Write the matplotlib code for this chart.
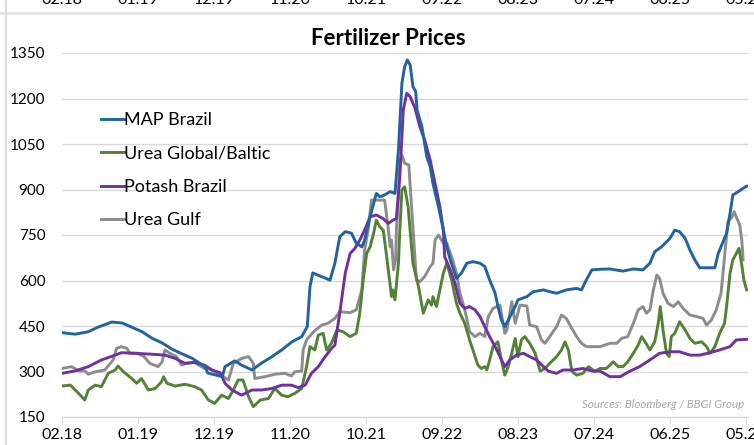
import matplotlib.pyplot as plt
import matplotlib.transforms as mtransforms
from matplotlib.lines import Line2D

# x values are months since Feb 2018
tick_months = [0, 11, 22, 33, 44, 55, 66, 77, 88, 99]
tick_labels = ['02.18', '01.19', '12.19', '11.20', '10.21',
               '09.22', '08.23', '07.24', '06.25', '05.26']

map_m = [0.0, 1.9, 3.8, 5.2, 7.2, 8.7, 10.1, 11.6, 13.0, 14.5, 15.9, 17.4, 18.8,
         20.7, 21.1, 23.2, 23.6, 25.0, 26.0, 27.5, 28.9, 30.4, 31.8, 33.3, 34.7,
         35.5, 35.9, 36.3, 37.0, 38.1, 38.8, 39.5, 40.2, 41.0, 41.9, 42.6, 43.4,
         43.8, 44.6, 45.5, 46.0, 46.7, 47.5, 48.2, 48.7, 49.2, 49.6, 50.0, 50.4,
         50.8, 51.2, 51.4, 52.1, 52.8, 53.3, 53.7, 54.5, 55.2, 55.7, 56.2, 57.1,
         57.8, 58.6, 59.5, 60.5, 61.2, 61.9, 62.7, 63.1, 63.6, 64.1, 64.6, 65.1,
         65.6, 66.0, 67.3, 68.2, 69.7, 70.6, 71.6, 73.0, 74.5, 75.2, 75.9, 76.7,
         77.9, 79.3, 81.2, 82.7, 84.1, 85.1, 85.8, 86.8, 88.0, 88.7, 89.4, 90.2,
         90.9, 91.6, 92.3, 93.3, 94.5, 95.0, 95.7, 96.2, 96.7, 97.1, 97.9, 98.6,
         99.1]
map_v = [428, 423, 431, 446, 463, 460, 446, 431, 410, 394, 374, 358, 344,
         316, 295, 283, 316, 335, 321, 305, 328, 349, 371, 398, 415,
         448, 580, 625, 618, 608, 601, 657, 744, 761, 756, 723, 711,
         733, 810, 887, 876, 882, 893, 887, 1030, 1250, 1305, 1327, 1310,
         1239, 1223, 1162, 1107, 1008, 975, 920, 843, 767, 711, 668, 607,
         624, 657, 662, 657, 646, 602, 558, 514, 470, 448, 470, 492,
         514, 536, 547, 563, 569, 563, 558, 569, 574, 569, 602, 635,
         637, 638, 631, 638, 635, 657, 695, 711, 739, 766, 761, 739,
         700, 668, 642, 642, 642, 690, 728, 756, 821, 882, 893, 904,
         911]

urea_m = [0.0, 1.2, 2.4, 3.3, 3.8, 4.8, 5.7, 6.7, 7.7, 8.1, 8.9, 10.1, 10.8,
          11.5, 12.5, 13.5, 14.4, 14.7, 15.2, 16.4, 17.8, 19.2, 20.2, 21.2, 22.1,
          23.1, 24.1, 24.8, 25.5, 26.2, 27.0, 27.7, 28.7, 29.9, 30.8, 31.8, 32.7,
          33.7, 34.7, 35.4, 35.9, 36.6, 37.1, 37.8, 38.3, 39.0, 39.8, 40.7, 41.7,
          42.6, 43.1, 43.6, 44.1, 44.6, 45.1, 45.5, 46.0, 46.5, 47.0, 47.7, 47.9,
          48.2, 48.7, 48.9, 49.2, 49.6, 50.1, 50.6, 50.8, 51.6, 52.3, 53.0, 53.5,
          53.7, 54.2, 54.7, 55.2, 55.7, 56.4, 57.1, 57.6, 58.3, 59.0, 59.8, 60.2,
          60.7, 61.2, 61.5, 61.9, 62.4, 63.1, 63.6, 64.1, 64.6, 65.1, 65.6, 66.0,
          66.5, 67.0, 67.7, 68.5, 69.2, 69.9, 70.6, 71.6, 72.3, 72.8, 73.3, 73.8,
          74.5, 75.4, 76.2, 77.1, 77.9, 78.8, 79.8, 80.5, 81.2, 81.9, 82.7, 83.4,
          83.9, 84.4, 85.1, 85.8, 86.3, 86.6, 87.0, 87.5, 87.9, 88.2, 88.7, 89.4,
          90.2, 90.9, 91.6, 92.6, 93.3, 93.8, 94.5, 95.2, 95.9, 96.2, 96.7, 97.1,
          97.6, 98.0, 98.4, 98.7, 99.1]
urea_v = [252, 255, 228, 206, 239, 255, 250, 294, 305, 318, 299, 277, 261,
          277, 239, 244, 266, 283, 261, 252, 258, 250, 239, 206, 195,
          222, 211, 239, 272, 272, 217, 184, 206, 211, 244, 222, 217,
          228, 244, 316, 382, 371, 420, 426, 371, 393, 437, 431, 415,
          426, 492, 602, 689, 711, 755, 799, 777, 766, 678, 547, 569,
          536, 657, 766, 898, 909, 843, 711, 657, 580, 492, 536, 519,
          547, 514, 569, 624, 657, 602, 525, 492, 459, 404, 349, 321,
          310, 316, 305, 338, 382, 398, 338, 288, 316, 360, 409, 349,
          404, 415, 393, 360, 301, 310, 327, 349, 371, 398, 371, 301,
          288, 294, 316, 301, 310, 310, 332, 316, 316, 332, 360, 387,
          415, 398, 371, 398, 459, 514, 437, 360, 349, 415, 426, 464,
          437, 409, 393, 398, 382, 360, 382, 426, 459, 514, 624, 668,
          689, 706, 651, 602, 569]

potash_m = [0.0, 1.9, 3.8, 5.7, 7.7, 8.6, 10.6, 13.0, 14.9, 16.4, 17.8, 19.2,
            20.7, 21.7, 22.9, 23.6, 24.6, 26.0, 27.5, 28.9, 30.4, 31.8, 33.2,
            34.2, 35.2, 36.1, 37.1, 38.1, 39.0, 39.5, 40.2, 41.0, 41.7, 42.4,
            43.1, 43.8, 44.6, 45.5, 46.5, 47.2, 47.9, 48.4, 48.9, 49.4, 49.9,
            50.4, 51.1, 51.8, 52.5, 53.3, 54.0, 54.7, 55.2, 55.4, 56.2, 56.9,
            57.6, 58.3, 59.0, 59.8, 60.5, 61.2, 61.9, 62.7, 63.4, 64.1, 64.8,
            65.8, 66.8, 67.7, 68.7, 69.7, 70.4, 71.6, 72.5, 74.0, 75.4, 76.9,
            77.9, 79.3, 80.8, 82.2, 83.6, 85.1, 86.5, 88.0, 89.4, 90.9, 92.3,
            93.8, 95.2, 96.7, 97.6, 99.1]
potash_v = [294, 302, 316, 338, 354, 362, 360, 357, 354, 343, 327, 330,
            320, 305, 296, 261, 239, 222, 239, 239, 244, 255, 255,
            247, 255, 294, 316, 349, 376, 387, 492, 624, 689, 706,
            733, 766, 810, 816, 804, 788, 799, 804, 942, 1162, 1217,
            1206, 1168, 1107, 1063, 997, 920, 843, 766, 678, 635, 590,
            525, 508, 514, 503, 481, 448, 415, 382, 349, 316, 338,
            354, 360, 349, 338, 316, 301, 294, 305, 305, 310, 301,
            301, 283, 283, 301, 316, 338, 360, 365, 365, 354, 354,
            362, 371, 382, 404, 406]

gulf_m = [0.0, 1.4, 2.4, 3.3, 3.8, 4.8, 6.2, 7.4, 7.9, 8.6, 9.4, 9.8, 10.8,
          11.8, 12.7, 13.9, 14.5, 14.9, 15.6, 16.6, 17.3, 18.0, 19.2, 20.6, 21.2,
          22.6, 24.1, 24.8, 26.0, 27.0, 27.7, 27.9, 29.4, 30.8, 32.3, 33.2, 33.7,
          34.7, 34.9, 35.4, 36.4, 37.6, 38.5, 39.5, 40.2, 41.7, 42.6, 43.4, 43.8,
          44.3, 44.8, 45.8, 46.7, 47.2, 47.5, 47.7, 48.0, 48.3, 48.4, 48.7, 48.9,
          49.2, 49.6, 50.2, 50.6, 50.9, 51.3, 51.8, 52.5, 53.3, 53.7, 54.0, 54.5,
          55.2, 55.7, 56.4, 57.1, 57.6, 58.3, 59.0, 59.8, 60.5, 61.2, 61.7, 62.4,
          63.4, 64.1, 64.4, 65.1, 65.6, 66.3, 67.3, 67.7, 68.7, 69.4, 69.9, 70.6,
          71.6, 72.3, 73.0, 73.8, 74.5, 75.2, 75.9, 77.9, 79.3, 80.3, 81.0, 81.9,
          82.7, 83.4, 84.1, 84.6, 85.1, 85.6, 86.1, 86.5, 87.0, 87.7, 88.5, 89.2,
          89.9, 90.9, 91.9, 92.8, 93.3, 94.0, 94.7, 95.4, 95.9, 96.4, 97.0, 97.3,
          97.6, 98.1, 98.4, 98.6]
gulf_v = [310, 316, 302, 302, 291, 299, 305, 338, 376, 382, 376, 360, 360,
          351, 327, 316, 332, 371, 360, 349, 321, 327, 330, 310, 310,
          294, 272, 327, 343, 349, 327, 277, 283, 291, 294, 285, 299,
          302, 371, 404, 431, 453, 459, 475, 497, 494, 503, 569, 700,
          766, 865, 865, 865, 777, 711, 733, 635, 668, 766, 880, 986,
          1014, 986, 981, 843, 744, 602, 596, 613, 646, 657, 733, 750,
          723, 723, 678, 624, 558, 503, 431, 415, 426, 415, 481, 508,
          519, 426, 437, 530, 459, 519, 516, 453, 448, 404, 393, 415,
          448, 486, 475, 442, 415, 393, 382, 382, 393, 393, 409, 415,
          459, 503, 514, 492, 503, 569, 618, 607, 558, 525, 514, 530,
          508, 486, 481, 475, 453, 470, 503, 558, 678, 794, 810, 827,
          810, 783, 733, 668]

names = ['MAP Brazil', 'Urea Global/Baltic', 'Potash Brazil', 'Urea Gulf']
colors = ['#22629e', '#548235', '#7030a0', '#8c8c8c']
series = [(map_m, map_v), (urea_m, urea_v), (potash_m, potash_v), (gulf_m, gulf_v)]

plt.rcParams['font.family'] = ['Lato', 'DejaVu Sans']

fig = plt.figure(figsize=(7.54, 4.45), dpi=100)
ax = fig.add_axes([62 / 754, 1 - 417 / 445, (748 - 62) / 754, (417 - 53) / 445])

# lines drawn back to front like the original
for i in [3, 1, 2, 0]:
    m, v = series[i]
    ax.plot(m, v, color=colors[i], lw=2.1, label=names[i], zorder=3 + (i == 0))

ax.set_xlim(0, 99.3)
ax.set_ylim(150, 1350)
ax.set_yticks(range(150, 1351, 150))
ax.set_xticks(tick_months)
ax.set_xticklabels(tick_labels)
ax.grid(axis='y', color='#d9d9d9', lw=1)
ax.set_axisbelow(True)
for s in ['top', 'right', 'left']:
    ax.spines[s].set_visible(False)
ax.spines['bottom'].set_color('#d9d9d9')
ax.tick_params(axis='y', length=0, labelsize=11, pad=12)
ax.tick_params(axis='x', length=5, color='#d9d9d9', labelsize=11.5, pad=3)

handles = [Line2D([], [], color=c, lw=2.1) for c in colors]
ax.legend(handles, names, loc='upper left', bbox_to_anchor=(0.047, 0.858),
          frameon=False, fontsize=13, handlelength=1.25, handletextpad=0.0,
          labelspacing=0.97, borderaxespad=0)

ax.set_title('Fertilizer Prices', fontsize=16, fontweight='bold', pad=6, x=0.475)
ax.text(0.995, 0.035, 'Sources: Bloomberg / BBGI Group', transform=ax.transAxes,
        ha='right', va='center', fontsize=8.3, style='italic', color='#a6a6a6')

# remnants of the chart above in the page
trans = mtransforms.blended_transform_factory(ax.transData, fig.transFigure)
for m, lab in zip(tick_months, tick_labels):
    fig.text(m, 1.0, lab, transform=trans, ha='center', va='center', fontsize=11.5)
fig.add_artist(Line2D([0, 1], [1 - 13 / 445] * 2, transform=fig.transFigure,
                      color='#e4e4e4', lw=2))
fig.add_artist(Line2D([6 / 754] * 2, [0, 1], transform=fig.transFigure,
                      color='#dcdcdc', lw=1.5))

fig.savefig('out.png', dpi=100)
